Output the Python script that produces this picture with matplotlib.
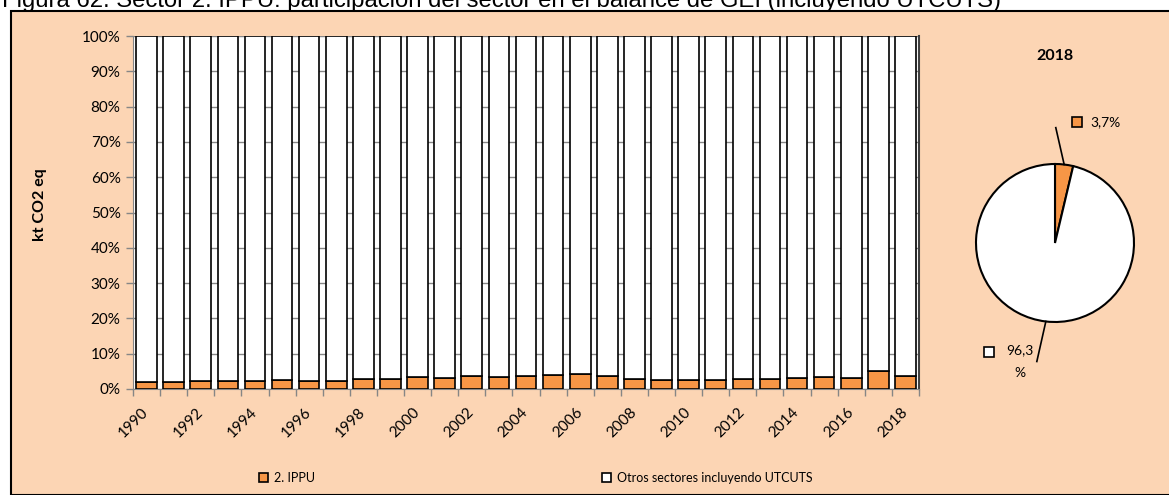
import matplotlib.pyplot as plt
import numpy as np
from matplotlib.patches import Rectangle, Patch

plt.rcParams['font.family'] = ['Lato', 'DejaVu Sans']

# data (share of IPPU in GHG balance, %)
years = list(range(1990, 2019))
ippu = [2.1, 2.0, 2.3, 2.2, 2.2, 2.45, 2.2, 2.4, 2.8, 2.9,
        3.3, 3.2, 3.7, 3.5, 3.6, 4.0, 4.2, 3.8, 2.9, 2.6,
        2.45, 2.5, 2.9, 2.8, 3.2, 3.4, 3.2, 5.0, 3.7]
otros = [100 - v for v in ippu]
pie_year = "2018"
pie_vals = [3.7, 96.3]
pie_labels = ["3,7%", "96,3\n%"]
series_names = ["2. IPPU", "Otros sectores incluyendo UTCUTS"]

ORANGE = "#F79646"
PEACH = "#FCD5B4"
GREY = "#868686"

W, H = 1169, 495
fig = plt.figure(figsize=(W / 100, H / 100), dpi=100)

def px(x0, y0, x1, y1):
    return [x0 / W, 1 - y1 / H, (x1 - x0) / W, (y1 - y0) / H]

# outer chart area
fig.patches.append(Rectangle((11 / W, 0), 1, 1 - 10.5 / H, transform=fig.transFigure,
                             facecolor=PEACH, edgecolor="black", linewidth=1.5, zorder=-5))
fig.text(2 / W, 1 - 7.5 / H,
         "Figura 62. Sector 2. IPPU: participación del sector en el balance de GEI (incluyendo UTCUTS)",
         fontsize=17.2, family=['Liberation Sans', 'DejaVu Sans'], va='baseline', ha='left', zorder=-6)

# stacked bars
ax = fig.add_axes(px(133, 36, 919, 389))
ax.set_facecolor("white")
x = np.arange(len(years))
frac_i = np.array(ippu) / 100
frac_o = np.array(otros) / 100
ax.bar(x, frac_i, width=0.76, color=ORANGE, edgecolor="black", linewidth=1.2, zorder=3)
ax.bar(x, frac_o, bottom=frac_i, width=0.76, color="white", edgecolor="black", linewidth=1.2, zorder=3)
ax.set_xlim(-0.5, len(years) - 0.5)
ax.set_ylim(0, 1)
ax.set_yticks(np.arange(0, 1.01, 0.1))
ax.set_yticklabels([f"{int(round(v * 100))}%" for v in np.arange(0, 1.01, 0.1)], fontsize=11)
ax.yaxis.grid(True, color=GREY, linewidth=1, zorder=0)
ax.set_axisbelow(True)
ax.set_xticks(np.arange(-0.5, len(years), 1))
ax.set_xticklabels([])
ax.set_xticks(x[::2], minor=True)
ax.set_xticklabels([str(y) for y in years[::2]], minor=True, rotation=45,
                   ha='right', va='center', rotation_mode='anchor', fontsize=11)
ax.tick_params(axis='x', which='minor', length=0, pad=15)
ax.tick_params(axis='x', which='major', length=5, color=GREY, width=1)
ax.tick_params(axis='y', length=5, color=GREY, width=1, pad=4)
ax.spines['top'].set_visible(False)
ax.spines['left'].set_color(GREY)
ax.spines['bottom'].set_color(GREY)
ax.spines['right'].set_color("#404040")
ax.spines['right'].set_linewidth(1.5)
fig.text(40 / W, 1 - 205 / H, "kt CO2 eq", rotation=90, fontsize=11.5, fontweight='bold',
         ha='center', va='center')

# pie
r = 79
cx, cy = 1055, 243
pax = fig.add_axes(px(cx - r, cy - r, cx + r, cy + r))
pax.pie(pie_vals, colors=[ORANGE, "white"], startangle=90, counterclock=False,
        wedgeprops=dict(edgecolor="black", linewidth=1.5), radius=1)
pax.set_xlim(-1, 1)
pax.set_ylim(-1, 1)
pax.set_aspect('equal')
pax.axis('off')
fig.text(cx / W, 1 - 56 / H, pie_year, fontsize=11.5, fontweight='bold', ha='center', va='center')

start = 90
cols = [ORANGE, "white"]
ends = [(-0.07, 1.46), (-0.23, -1.50)]
for val, lab, col, end in zip(pie_vals, pie_labels, cols, ends):
    mid = np.deg2rad(start - val * 3.6 / 2)
    start -= val * 3.6
    ex, ey = np.cos(mid), np.sin(mid)
    pax.plot([ex, end[0] + (0.08 if ey > 0 else 0)], [ey, end[1]], color="black", lw=1.2, clip_on=False)
    if ey > 0:
        tx, ty = end[0] + 0.52, end[1] + 0.07
        pax.plot([tx - 0.17], [ty], marker='s', ms=7, mfc=col, mec="black", mew=1.2, clip_on=False)
        pax.text(tx, ty, lab, fontsize=10, ha='left', va='center')
    else:
        tx, ty = end[0] - 0.42, end[1] + 0.12
        pax.plot([tx - 0.18], [ty], marker='s', ms=7, mfc=col, mec="black", mew=1.2, clip_on=False)
        pax.text(tx + 0.2, ty + 0.1, lab, fontsize=10, ha='center', va='top', linespacing=2.1)

# legend
handles = [Patch(facecolor=ORANGE, edgecolor="black", linewidth=1.2),
           Patch(facecolor="white", edgecolor="black", linewidth=1.2)]
fig.legend(handles, series_names, loc='center', bbox_to_anchor=(536 / W, 1 - 478 / H),
           ncol=2, frameon=False, fontsize=9, handlelength=0.7, handleheight=0.7,
           handletextpad=0.5, columnspacing=23)

fig.savefig("out.png", dpi=100)
